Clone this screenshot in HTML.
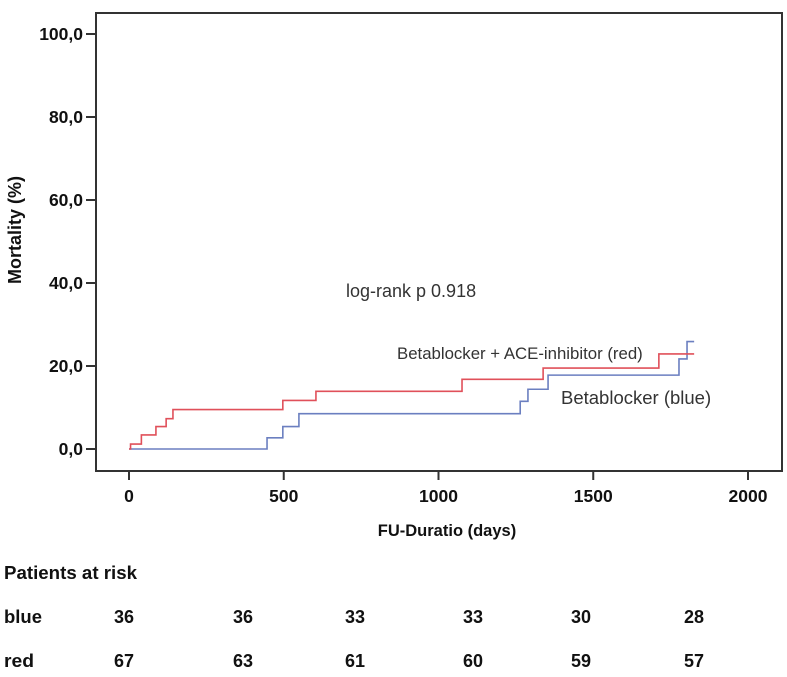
<!DOCTYPE html>
<html><head><meta charset="utf-8"><style>
body{margin:0;background:#fff;}
svg text{font-family:"Liberation Sans",Arial,sans-serif;}
</style></head><body>
<svg width="787" height="672" viewBox="0 0 787 672" id="chart">
<rect x="0" y="0" width="787" height="672" fill="#fff"/>
<rect x="96" y="13" width="686" height="458" fill="none" stroke="#333" stroke-width="2"/>
<g id="yaxis"></g>
<g id="xaxis"></g>
<g id="series"></g>
<text x="21" y="230" transform="rotate(-90 21 230)" text-anchor="middle" font-size="18" font-weight="bold" fill="#111">Mortality (%)</text>
<text x="447" y="536" text-anchor="middle" font-size="16.5" font-weight="bold" fill="#111">FU-Duratio (days)</text>
<text x="346" y="297" font-size="18" fill="#333">log-rank p 0.918</text>
<text x="397" y="359" font-size="16.8" fill="#333">Betablocker + ACE-inhibitor (red)</text>
<text x="561" y="404" font-size="18.5" fill="#333">Betablocker (blue)</text>
<g id="risk">
<text x="4" y="579" font-size="18" font-weight="bold" fill="#111" textLength="133" lengthAdjust="spacingAndGlyphs">Patients at risk</text>
<text x="4" y="623" font-size="18" font-weight="bold" fill="#111" textLength="38" lengthAdjust="spacingAndGlyphs">blue</text>
<text x="4" y="667" font-size="18" font-weight="bold" fill="#111" textLength="30" lengthAdjust="spacingAndGlyphs">red</text>
</g>
</svg>
<script>
const yTicks=[0,20,40,60,80,100];
const yTickLabels=["0,0","20,0","40,0","60,0","80,0","100,0"];
const xTicks=[0,500,1000,1500,2000];
const redTimes=[0,5,40,87,120,142,497,604,1076,1338,1712,1826];
const redValues=[0,1.2,3.4,5.4,7.3,9.5,11.7,13.9,16.8,19.5,22.9,22.9];
const blueTimes=[0,446,497,549,1264,1289,1354,1777,1803,1826];
const blueValues=[0,2.7,5.4,8.5,11.5,14.4,17.8,21.7,25.9,25.9];
const riskBlue=[36,36,33,33,30,28];
const riskRed=[67,63,61,60,59,57];
const NS="http://www.w3.org/2000/svg";
function xs(v){return 129+v*(748-129)/2000;}
function ys(v){return 449-v*(449-34)/100;}
function mk(tag,attrs,parent){const e=document.createElementNS(NS,tag);for(const k in attrs)e.setAttribute(k,attrs[k]);parent.appendChild(e);return e;}
const ya=document.getElementById('yaxis'),xa=document.getElementById('xaxis'),sr=document.getElementById('series'),rk=document.getElementById('risk');
yTicks.forEach((t,i)=>{
 const l=mk('line',{x1:86,x2:96,y1:ys(t),y2:ys(t),stroke:'#333','stroke-width':2},ya);
 
 
 const tx=mk('text',{x:83,y:ys(t)+6,'text-anchor':'end','font-size':17.5,'font-weight':'bold',fill:'#111'},ya);
 tx.textContent=yTickLabels[i];
 
 
});
xTicks.forEach(t=>{
 const l=mk('line',{x1:xs(t),x2:xs(t),y1:471,y2:480,stroke:'#333','stroke-width':2},xa);
 
 
 const tx=mk('text',{x:xs(t),y:502,'text-anchor':'middle','font-size':17.5,'font-weight':'bold',fill:'#111'},xa);
 tx.textContent=t;
 
 
});
function stepPath(ts,vs){let d='M'+xs(ts[0])+','+ys(vs[0]);for(let i=1;i<ts.length;i++){d+=' H'+xs(ts[i])+' V'+ys(vs[i]);}return d;}
const bp=mk('path',{d:stepPath(blueTimes,blueValues),fill:'none',stroke:'#6b7fc0','stroke-width':1.6},sr);


const rp=mk('path',{d:stepPath(redTimes,redValues),fill:'none',stroke:'#e0505a','stroke-width':1.6},sr);


const cols=[124,243,355,473,581,694];
riskBlue.forEach((v,i)=>{
 const t=mk('text',{x:cols[i],y:623,'text-anchor':'middle','font-size':18,'font-weight':'bold',fill:'#111'},rk);
 t.textContent=v;
 
 
});
riskRed.forEach((v,i)=>{
 const t=mk('text',{x:cols[i],y:667,'text-anchor':'middle','font-size':18,'font-weight':'bold',fill:'#111'},rk);
 t.textContent=v;
 
 
});
</script>
</body></html>
